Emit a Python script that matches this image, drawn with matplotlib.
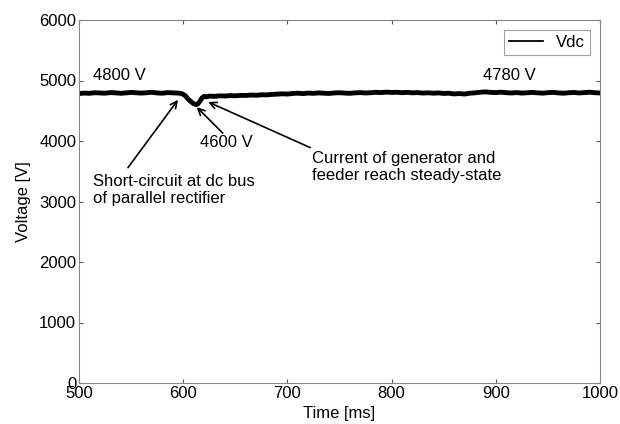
import matplotlib.pyplot as plt

plt.rcParams['font.family'] = ['Liberation Sans', 'DejaVu Sans']
plt.rcParams['font.size'] = 12

# Vdc trace (ms, V)
time_ms = [500, 505, 510, 515, 520, 525, 530, 535, 540, 545, 550, 555, 560, 565, 570,
           575, 580, 585, 590, 595, 598, 600, 602, 604, 606, 608, 610, 612, 614, 616,
           618, 620, 622, 625, 630, 635, 640, 645, 650, 655, 660, 665, 670, 675, 680,
           685, 690, 695, 700, 705, 710, 715, 720, 725, 730, 735, 740, 745, 750, 755,
           760, 765, 770, 775, 780, 785, 790, 795, 800, 805, 810, 815, 820, 825, 830,
           835, 840, 845, 850, 855, 860, 865, 870, 875, 880, 885, 890, 895, 900, 905,
           910, 915, 920, 925, 930, 935, 940, 945, 950, 955, 960, 965, 970, 975, 980,
           985, 990, 995, 1000]
vdc = [4785, 4792, 4788, 4798, 4794, 4790, 4800, 4796, 4788, 4795, 4803, 4797, 4792, 4798, 4805,
       4794, 4790, 4800, 4796, 4792, 4785, 4772, 4748, 4708, 4672, 4642, 4618, 4602, 4612, 4655,
       4712, 4738, 4730, 4742, 4738, 4746, 4744, 4750, 4747, 4754, 4752, 4760, 4755, 4764, 4762,
       4770, 4774, 4780, 4776, 4786, 4790, 4784, 4792, 4788, 4795, 4790, 4786, 4794, 4798, 4792,
       4788, 4796, 4800, 4794, 4798, 4805, 4800, 4808, 4802, 4806, 4798, 4804, 4796, 4800, 4792,
       4797, 4790, 4795, 4786, 4790, 4778, 4784, 4776, 4790, 4796, 4806, 4812, 4804, 4800, 4807,
       4798, 4794, 4800, 4792, 4797, 4803, 4796, 4791, 4799, 4804, 4795, 4790, 4798, 4802, 4794,
       4800, 4806, 4798, 4794]

x_ticks = [500, 600, 700, 800, 900, 1000]
y_ticks = [0, 1000, 2000, 3000, 4000, 5000, 6000]

fig = plt.figure(figsize=(6.2, 4.24), dpi=100)
ax = fig.add_axes([79 / 620, 1 - 383 / 424, 521 / 620, 363 / 424])

ax.plot(time_ms, vdc, color='black', linewidth=3.5, label='Vdc')

ax.set_xlim(500, 1000)
ax.set_ylim(0, 6000)
ax.set_xticks(x_ticks)
ax.set_yticks(y_ticks)
ax.tick_params(direction='in', length=3, top=True, right=True, color='#555555', pad=2)
for s in ax.spines.values():
    s.set_color('#888888')

ax.set_xlabel('Time [ms]', labelpad=4)
ax.set_ylabel('Voltage [V]', labelpad=6)

leg = ax.legend(loc='upper right', fancybox=False, edgecolor='#888888',
                handlelength=2.0, borderpad=0.3, borderaxespad=0.6)
leg.get_frame().set_linewidth(0.8)
for h in leg.get_lines():
    h.set_linewidth(1.3)

arrow = dict(arrowstyle='->', color='black', lw=1.2, shrinkA=0, shrinkB=0)

ax.text(513, 5090, '4800 V', va='center')
ax.text(888, 5090, '4780 V', va='center')

ax.text(513, 3190, 'Short-circuit at dc bus\nof parallel rectifier', va='center',
        linespacing=1.1)
ax.annotate('', xy=(595, 4680), xytext=(547, 3560), arrowprops=arrow)

ax.text(616, 3970, '4600 V', va='center')
ax.annotate('', xy=(613, 4560), xytext=(638, 4130), arrowprops=arrow)

ax.text(724, 3570, 'Current of generator and\nfeeder reach steady-state', va='center',
        linespacing=1.1)
ax.annotate('', xy=(624, 4645), xytext=(722, 3890), arrowprops=arrow)

fig.savefig('out.png', dpi=100)
